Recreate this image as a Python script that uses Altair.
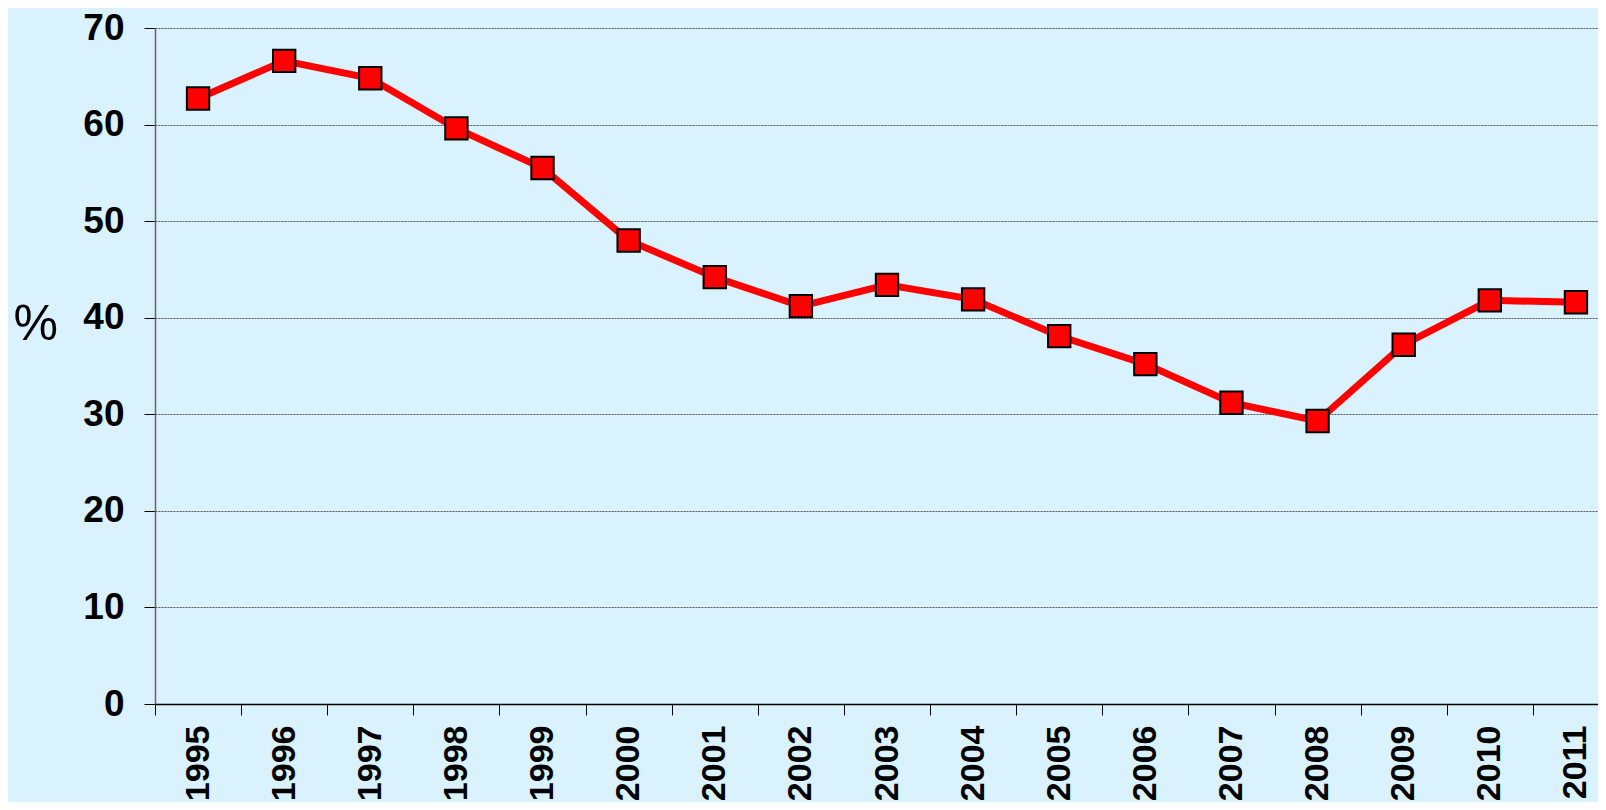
import altair as alt
import pandas as pd

years = [str(y) for y in range(1995, 2012)]
values = [62.7, 66.6, 64.8, 59.6, 55.5, 48.0, 44.2, 41.2, 43.4, 41.9,
          38.1, 35.2, 31.2, 29.3, 37.2, 41.8, 41.6]
y_ticks = [0, 10, 20, 30, 40, 50, 60, 70]

df = pd.DataFrame({"year": years, "value": values})

FONT = "Liberation Sans"
BG = "#D9F2FE"

x_enc = alt.X(
    "year:O",
    sort=years,
    scale=alt.Scale(range=[0, 1464], paddingInner=0, paddingOuter=0),
    axis=alt.Axis(
        title=None,
        labelAngle=-90,
        labelFont=FONT,
        labelFontSize=34,
        labelFontWeight="bold",
        labelColor="#000000",
        labelPadding=10,
        tickBand="extent",
        tickSize=11,
        tickColor="#000000",
        tickWidth=1,
        domainColor="#000000",
        domainWidth=1.5,
        grid=False,
        labelOverlap=False,
    ),
)

y_enc = alt.Y(
    "value:Q",
    scale=alt.Scale(domain=[0, 70], nice=False, zero=True),
    axis=alt.Axis(
        values=y_ticks,
        title="%",
        titleFont=FONT,
        titleFontSize=50,
        titleFontWeight="normal",
        titleColor="#000000",
        titleAngle=0,
        titleAlign="left",
        titleBaseline="alphabetic",
        titleX=-142,
        titleY=311,
        labelFont=FONT,
        labelFontSize=37,
        labelFontWeight="bold",
        labelColor="#000000",
        labelPadding=20,
        tickSize=11,
        tickColor="#000000",
        tickWidth=1,
        domainColor="#666666",
        domainWidth=1.5,
        grid=True,
        gridColor="#555555",
        gridDash=[2, 1],
        gridWidth=1,
    ),
)

line = alt.Chart(df).mark_line(color="#FF0000", strokeWidth=7).encode(x=x_enc, y=y_enc)
points = alt.Chart(df).mark_point(
    shape="square", filled=True, fill="#FF0000", stroke="#000000",
    strokeWidth=2, size=500, opacity=1
).encode(x=x_enc, y=y_enc)

chart = alt.layer(line, points).properties(
    width=1443,
    height=676,
    autosize=alt.AutoSizeParams(type="none"),
    padding={"left": 147, "top": 20, "right": 0, "bottom": 98},
    background=BG,
).configure_view(stroke=None)

chart.save("out.html", embed_options={"renderer": "svg", "actions": False})
